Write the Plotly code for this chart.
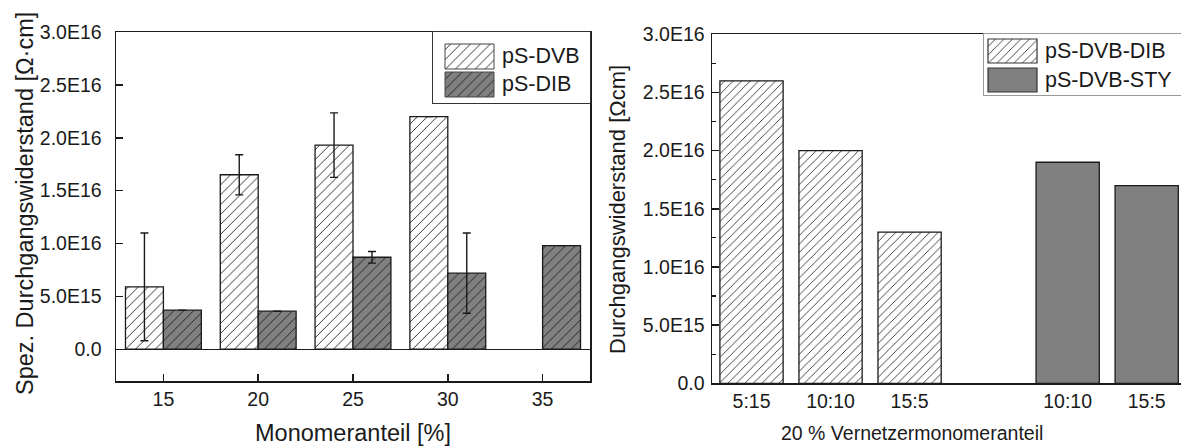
import plotly.graph_objects as go

# ---------------- data ----------------
monomer = [15, 20, 25, 30, 35]
dvb_vals = [5.9e15, 1.65e16, 1.93e16, 2.2e16, None]
dvb_err = [5.1e15, 1.9e15, 3.05e15, None, None]
dib_vals = [3.7e15, 3.6e15, 8.7e15, 7.2e15, 9.8e15]
dib_err = [None, None, 0.55e15, 3.8e15, None]

ratio_dib = ["5:15", "10:10", "15:5"]
vals_dib = [2.6e16, 2.0e16, 1.3e16]
ratio_sty = ["10:10", "15:5"]
vals_sty = [1.9e16, 1.7e16]

y_ticks = [0, 5e15, 1e16, 1.5e16, 2e16, 2.5e16, 3e16]
legend_left = ["pS-DVB", "pS-DIB"]
legend_right = ["pS-DVB-DIB", "pS-DVB-STY"]

# ---------------- helpers ----------------
W, H = 1181, 448
FONT = "Liberation Sans, Arial, sans-serif"
INK = "#1a1a1a"
GRAY = "#808080"


def px(x):
    return x / W


def py(y):
    return 1 - y / H


def fmt(v):
    return "0.0" if v == 0 else f"{v:.1E}".replace("E+", "E")


y_ticktext = [fmt(v) for v in y_ticks]

hatch_white_l = dict(shape="/", bgcolor="white", fgcolor="#333", size=7, solidity=0.14, fillmode="replace")
hatch_gray_l = dict(shape="/", bgcolor=GRAY, fgcolor="#222", size=7, solidity=0.14, fillmode="replace")
hatch_white_r = dict(shape="/", bgcolor="white", fgcolor="#333", size=6, solidity=0.15, fillmode="replace")
outline = dict(color=INK, width=1.3)

fig = go.Figure()

# ---------------- left chart ----------------
fig.add_trace(go.Bar(
    x=monomer, y=dvb_vals, name="pS-DVB", xaxis="x", yaxis="y",
    marker=dict(color="white", pattern=hatch_white_l, line=outline),
    error_y=dict(type="data", array=dvb_err, visible=True, color=INK, thickness=1.4, width=4),
    showlegend=False, hoverinfo="skip"))
fig.add_trace(go.Bar(
    x=monomer, y=dib_vals, name="pS-DIB", xaxis="x", yaxis="y",
    marker=dict(color=GRAY, pattern=hatch_gray_l, line=outline),
    error_y=dict(type="data", array=dib_err, visible=True, color=INK, thickness=1.4, width=4),
    showlegend=False, hoverinfo="skip"))

# ---------------- right chart ----------------
keys_dib = list(ratio_dib)
keys_sty = [r + "\u200b" for r in ratio_sty]
spacer = "\u200b\u200b"
cat_order = keys_dib + [spacer] + keys_sty

fig.add_trace(go.Bar(
    x=keys_dib, y=vals_dib, name="pS-DVB-DIB", xaxis="x2", yaxis="y2", offsetgroup="r",
    marker=dict(color="white", pattern=hatch_white_r, line=outline),
    showlegend=False, hoverinfo="skip"))
fig.add_trace(go.Bar(
    x=keys_sty, y=vals_sty, name="pS-DVB-STY", xaxis="x2", yaxis="y2", offsetgroup="r",
    marker=dict(color=GRAY, line=outline),
    showlegend=False, hoverinfo="skip"))

# ---------------- manual legends (own small axes) ----------------
# left legend box: 433..590 px, 32..103 px
fig.add_trace(go.Bar(orientation="h", y=[24.5], x=[49], base=[12], width=25, offset=-12.5,
                     xaxis="x3", yaxis="y3", marker=dict(color="white", pattern=hatch_white_l, line=dict(color="#444", width=1)),
                     showlegend=False, hoverinfo="skip"))
fig.add_trace(go.Bar(orientation="h", y=[52.5], x=[49], base=[12], width=25, offset=-12.5,
                     xaxis="x3", yaxis="y3", marker=dict(color=GRAY, pattern=hatch_gray_l, line=dict(color="#444", width=1)),
                     showlegend=False, hoverinfo="skip"))
# right legend box: 983.6..1181 px, 34..95 px
fig.add_trace(go.Bar(orientation="h", y=[17], x=[49], base=[4.4], width=24, offset=-12,
                     xaxis="x4", yaxis="y4", marker=dict(color="white", pattern=hatch_white_r, line=dict(color="#333", width=1.2)),
                     showlegend=False, hoverinfo="skip"))
fig.add_trace(go.Bar(orientation="h", y=[46], x=[49], base=[4.4], width=24, offset=-12,
                     xaxis="x4", yaxis="y4", marker=dict(color=GRAY, line=dict(color="#333", width=1.2)),
                     showlegend=False, hoverinfo="skip"))

tickfont = dict(family=FONT, size=19.5, color=INK)
axis_common = dict(showgrid=False, showline=True, linecolor=INK, linewidth=1.5, tickcolor=INK,
                   tickwidth=1.5, tickfont=tickfont, fixedrange=True, automargin=False)
legend_axis = dict(showticklabels=False, ticks="", showgrid=False, zeroline=False,
                   fixedrange=True, automargin=False, showline=True)

annotations = []
for i, lab in enumerate(legend_left):
    annotations.append(dict(x=67, y=[24.5, 52.5][i], xref="x3", yref="y3", text=lab, showarrow=False,
                            xanchor="left", yanchor="middle", font=dict(family=FONT, size=21.5, color=INK)))
for i, lab in enumerate(legend_right):
    annotations.append(dict(x=59, y=[17, 46][i], xref="x4", yref="y4", text=lab, showarrow=False,
                            xanchor="left", yanchor="middle", font=dict(family=FONT, size=21.5, color=INK)))

annotations += [
    dict(x=px(25), y=py(204), xref="paper", yref="paper", text="Spez. Durchgangswiderstand [Ω·cm]",
         textangle=-90, showarrow=False, xanchor="center", yanchor="middle",
         font=dict(family=FONT, size=23.5, color=INK)),
    dict(x=px(353), y=py(433), xref="paper", yref="paper", text="Monomeranteil [%]",
         showarrow=False, xanchor="center", yanchor="middle",
         font=dict(family=FONT, size=23.5, color=INK)),
    dict(x=px(617), y=py(210), xref="paper", yref="paper", text="Durchgangswiderstand [Ωcm]",
         textangle=-90, showarrow=False, xanchor="center", yanchor="middle",
         font=dict(family=FONT, size=22, color=INK)),
    dict(x=px(912), y=py(433), xref="paper", yref="paper", text="20 % Vernetzermonomeranteil",
         showarrow=False, xanchor="center", yanchor="middle",
         font=dict(family=FONT, size=19.5, color=INK)),
]

fig.update_layout(
    width=W, height=H, autosize=False,
    margin=dict(l=0, r=0, t=0, b=0, pad=0, autoexpand=False),
    paper_bgcolor="white", plot_bgcolor="white",
    barmode="group", bargap=0.2, bargroupgap=0,
    hovermode=False, showlegend=False,
    font=dict(family=FONT, color=INK),
    xaxis=dict(domain=[px(116), px(590)], anchor="y", range=[12.5, 37.5], tickvals=monomer,
               ticks="inside", ticklen=7, mirror=True, zeroline=False, **axis_common),
    yaxis=dict(domain=[py(381), py(32)], anchor="x", range=[-3e15, 3e16], tickvals=y_ticks,
               ticktext=y_ticktext, ticks="inside", ticklen=7, mirror=True, zeroline=True,
               zerolinecolor=INK, zerolinewidth=1.5, ticklabelstandoff=9, **axis_common),
    xaxis2=dict(domain=[px(712), 1.0], anchor="y2", type="category", categoryorder="array",
                categoryarray=cat_order, range=[-0.5, 5.434], tickvals=keys_dib + keys_sty,
                ticktext=ratio_dib + ratio_sty, ticks="", mirror=True,
                zeroline=False, **axis_common),
    yaxis2=dict(domain=[py(383.3), py(34.3)], anchor="x2", range=[0, 3e16], tickvals=y_ticks,
                ticktext=y_ticktext, ticks="inside", ticklen=7, mirror=False, zeroline=False,
                minor=dict(ticks="inside", ticklen=4, tickcolor=INK, tickwidth=1.2, dtick=2.5e15, tick0=0),
                ticklabelstandoff=2, **axis_common),
    xaxis3=dict(domain=[px(433), px(590)], anchor="y3", range=[0, 157], mirror=True,
                linecolor="#333", linewidth=1, **legend_axis),
    yaxis3=dict(domain=[py(103), py(32)], anchor="x3", range=[71, 0], mirror=True,
                linecolor="#333", linewidth=1, **legend_axis),
    xaxis4=dict(domain=[px(983.6), 1.0], anchor="y4", range=[0, 197.4], mirror=True,
                linecolor="#999", linewidth=1, **legend_axis),
    yaxis4=dict(domain=[py(95), py(34)], anchor="x4", range=[61, 0], mirror=False,
                linecolor="#999", linewidth=1, **legend_axis),
    annotations=annotations,
)

fig.write_html(
    "out.html",
    config={"displayModeBar": False, "staticPlot": True},
    post_script="document.body.style.margin='0px';document.body.style.overflow='hidden';",
)
